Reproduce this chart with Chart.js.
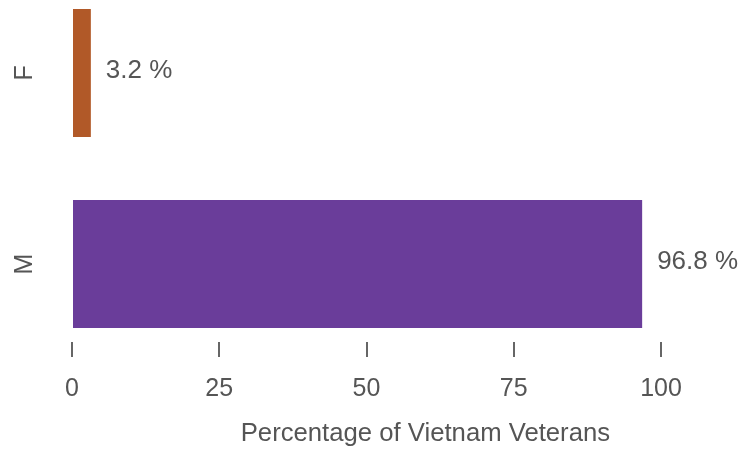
<!DOCTYPE html>
<html>
<head>
<meta charset="utf-8">
<script src="https://cdn.jsdelivr.net/npm/chart.js@4/dist/chart.umd.min.js"></script>
<style>
    body { margin: 0; background: #fff; }
</style>
</head>
<body>
<canvas id="vetChart" width="741" height="452"></canvas>
<script>
// Data
const categories = ['F', 'M'];
const percentages = [3.2, 96.8];
const barColors = ['#b15928', '#6a3d9a'];
const xTicks = [0, 25, 50, 75, 100];
const xTitle = 'Percentage of Vietnam Veterans';

const textColor = '#555555';
const fontFamily = '"Liberation Sans", Arial, sans-serif';

// Labels on the y axis (rotated), the value labels and the x title
const labelPlugin = {
    id: 'labelPlugin',
    afterDraw(chart) {
        const ctx = chart.ctx;
        const xScale = chart.scales.x;
        const yScale = chart.scales.y;
        ctx.save();
        ctx.fillStyle = textColor;
        ctx.font = '25px ' + fontFamily;
        ctx.textBaseline = 'middle';

        // category labels
        categories.forEach((cat, i) => {
            ctx.save();
            ctx.translate(25.5, yScale.getPixelForValue(i));
            ctx.rotate(-Math.PI / 2);
            ctx.textAlign = 'center';
            ctx.fillText(cat, 0, 0);
            ctx.restore();
        });

        // value labels
        ctx.font = '26px ' + fontFamily;
        const meta = chart.getDatasetMeta(0);
        meta.data.forEach((bar, i) => {
            ctx.textAlign = 'left';
            ctx.fillText(percentages[i] + ' %', bar.x + 15, bar.y - 2.5);
        });

        // axis title
        ctx.font = '25.7px ' + fontFamily;
        ctx.textAlign = 'center';
        ctx.fillText(xTitle, xScale.left + (xScale.right - xScale.left) * 0.6, 433.5);
        ctx.restore();
    }
};

new Chart(document.getElementById('vetChart'), {
    type: 'bar',
    data: {
        datasets: [{
            data: percentages.map((v, i) => ({ x: v, y: i })),
            backgroundColor: barColors,
            borderWidth: 0,
            categoryPercentage: 1,
            barPercentage: 0.67
        }]
    },
    options: {
        indexAxis: 'y',
        responsive: false,
        animation: false,
        layout: {
            padding: { left: 72, right: 80, top: 0, bottom: 0 }
        },
        plugins: {
            legend: { display: false },
            tooltip: { enabled: false }
        },
        scales: {
            x: {
                type: 'linear',
                min: 0,
                max: 100,
                afterBuildTicks(scale) {
                    scale.ticks = xTicks.map(v => ({ value: v }));
                },
                afterFit(scale) {
                    scale.height = 110;
                },
                border: { display: false },
                grid: {
                    drawOnChartArea: false,
                    drawTicks: true,
                    tickLength: 15,
                    color: '#666666',
                    lineWidth: 2
                },
                ticks: {
                    padding: 17,
                    color: textColor,
                    font: { family: fontFamily, size: 25 },
                    maxRotation: 0
                }
            },
            y: {
                type: 'linear',
                display: false,
                reverse: true,
                offset: false,
                bounds: 'data',
                grace: 0,
                min: -0.382,
                max: 1.408,
                afterBuildTicks(scale) {
                    scale.ticks = categories.map((c, i) => ({ value: i }));
                }
            }
        }
    },
    plugins: [labelPlugin]
});
</script>
</body>
</html>
